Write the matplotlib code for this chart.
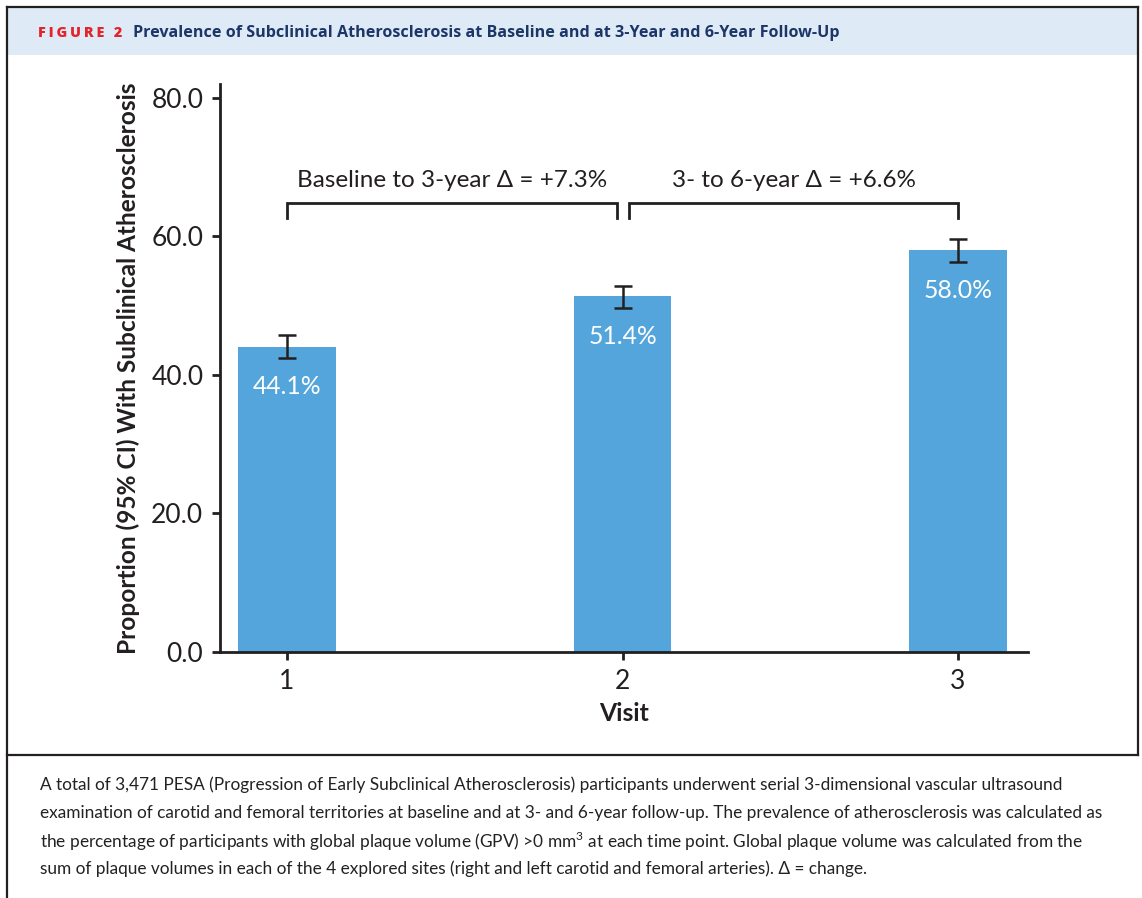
import matplotlib
matplotlib.use("Agg")
import matplotlib.pyplot as plt
from matplotlib.lines import Line2D
from matplotlib.patches import Rectangle

# Data
visits = [1, 2, 3]
visit_labels = ["1", "2", "3"]
prevalence = [44.1, 51.4, 58.0]
ci_low = [42.5, 49.6, 56.3]
ci_high = [45.8, 52.9, 59.6]
yticks = [0.0, 20.0, 40.0, 60.0, 80.0]
delta_labels = ["Baseline to 3-year \u0394 = +7.3%", "3- to 6-year \u0394 = +6.6%"]

title_tag = "FIGURE 2"
title_text = "Prevalence of Subclinical Atherosclerosis at Baseline and at 3-Year and 6-Year Follow-Up"
caption_lines = [
    "A total of 3,471 PESA (Progression of Early Subclinical Atherosclerosis) participants underwent serial 3-dimensional vascular ultrasound",
    "examination of carotid and femoral territories at baseline and at 3- and 6-year follow-up. The prevalence of atherosclerosis was calculated as",
    "the percentage of participants with global plaque volume (GPV) >0 mm$^3$ at each time point. Global plaque volume was calculated from the",
    "sum of plaque volumes in each of the 4 explored sites (right and left carotid and femoral arteries). \u0394 = change.",
]

FONT = ["Lato", "DejaVu Sans"]
plt.rcParams["font.family"] = FONT
plt.rcParams["mathtext.fontset"] = "custom"
plt.rcParams["mathtext.rm"] = "Lato"

BAR = "#53A5DB"
INK = "#231F20"
W, H = 1142, 898

fig = plt.figure(figsize=(W / 100, H / 100), dpi=100)
fig.patch.set_facecolor("white")

def fx(px):
    return px / W

def fy(py):
    return 1 - py / H

# header band and frame
fig.add_artist(Rectangle((fx(7), fy(55)), fx(1138) - fx(7), fy(8) - fy(55),
                         transform=fig.transFigure, facecolor="#DEEAF6", edgecolor="none", zorder=0))
fig.add_artist(Line2D([fx(7), fx(1138)], [fy(7), fy(7)], transform=fig.transFigure, color=INK, lw=1.6))
fig.add_artist(Line2D([fx(7), fx(7)], [fy(7), fy(898)], transform=fig.transFigure, color=INK, lw=1.6))
fig.add_artist(Line2D([fx(1138), fx(1138)], [fy(7), fy(755)], transform=fig.transFigure, color=INK, lw=1.6))
fig.add_artist(Line2D([fx(7), fx(1138)], [fy(755), fy(755)], transform=fig.transFigure, color=INK, lw=1.6))

# letter-spaced figure tag, then the title
HEAD = ["Open Sans", "DejaVu Sans"]
tag_spaced = "\u2009".join(title_tag)
fig.text(fx(38), fy(33), tag_spaced, color="#E4232B", fontsize=10.4, fontweight="heavy",
         family=HEAD, va="center", ha="left")
fig.text(fx(133), fy(33), title_text, color="#1B3667", fontsize=11.6, fontweight="bold",
         family=HEAD, va="center", ha="left")

for i, line in enumerate(caption_lines):
    fig.text(fx(40), fy(785 + i * 28), line, color="#222222", fontsize=12.4,
             va="center", ha="left")

# chart
ax = fig.add_axes([fx(220), fy(652), fx(1028) - fx(220), fy(84) - fy(652)])
ax.bar(visits, prevalence, width=0.292, color=BAR, zorder=2)
err_lo = [p - l for p, l in zip(prevalence, ci_low)]
err_hi = [h - p for p, h in zip(prevalence, ci_high)]
ax.errorbar(visits, prevalence, yerr=[err_lo, err_hi], fmt="none", ecolor=INK,
            elinewidth=1.8, capsize=6.5, capthick=1.8, zorder=3)

for x, v in zip(visits, prevalence):
    ax.text(x, v - 5.8, f"{v:.1f}%", color="white", fontsize=17.8, ha="center", va="center", zorder=4)

ax.set_xlim(0.8003, 3.2086)
ax.set_ylim(0, 82)
ax.set_xticks(visits)
ax.set_xticklabels(visit_labels)
ax.set_yticks(yticks)
ax.set_yticklabels([f"{t:.1f}" for t in yticks])
for s in ["top", "right"]:
    ax.spines[s].set_visible(False)
for s in ["left", "bottom"]:
    ax.spines[s].set_color(INK)
    ax.spines[s].set_linewidth(2.0)
ax.tick_params(axis="both", colors=INK, labelsize=19, length=6, width=2.0, pad=6)
ax.set_xlabel("Visit", fontsize=17.8, fontweight="bold", color=INK, labelpad=6)
ax.set_ylabel("Proportion (95% CI) With Subclinical Atherosclerosis", fontsize=17.6,
              fontweight="bold", color=INK, labelpad=8)

# comparison brackets
bracket_y = 64.8
bracket_drop = 2.2
spans = [(1.0, 1.985), (2.02, 3.0)]
for (a, b), lab in zip(spans, delta_labels):
    ax.plot([a, a, b, b], [bracket_y - bracket_drop, bracket_y, bracket_y, bracket_y - bracket_drop],
            color=INK, lw=2.0, solid_joinstyle="miter", clip_on=False, zorder=3)
    ax.text((a + b) / 2, 68.0, lab, fontsize=17.5, color=INK, ha="center", va="center")

fig.savefig("out.png", dpi=100, facecolor="white")
